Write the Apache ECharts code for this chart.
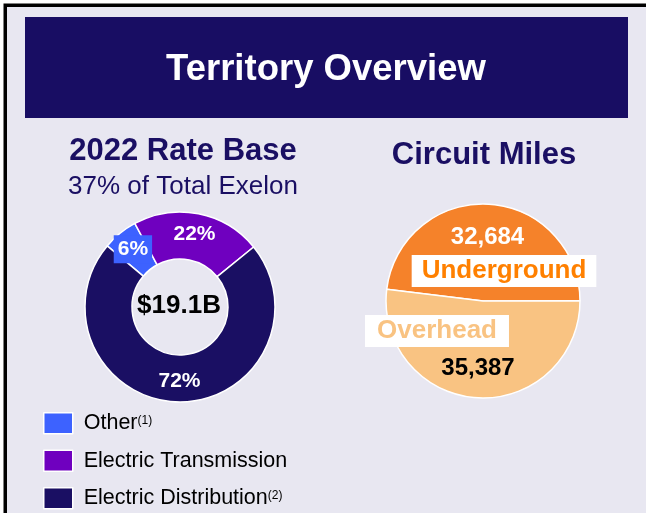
<!DOCTYPE html>
<html><head><meta charset="utf-8">
<script src="https://cdn.jsdelivr.net/npm/echarts@6/dist/echarts.min.js"></script>
<style>html,body{margin:0;padding:0;background:#fff}#c{width:646px;height:513px}</style>
</head><body><div id="c"></div>
<script>
// ---- data ----
const pageTitle = 'Territory Overview';
const rateBaseTitle = '2022 Rate Base';
const rateBaseSubtitle = '37% of Total Exelon';
const rateBaseTotal = '$19.1B';
const rateBaseCategories = ['Other', 'Electric Transmission', 'Electric Distribution'];
const rateBaseFootnotes = ['(1)', '', '(2)'];
const rateBaseValues = [6, 22, 72];
const circuitTitle = 'Circuit Miles';
const circuitCategories = ['Underground', 'Overhead'];
const circuitValues = [32684, 35387];

// ---- styles ----
const FONT = '"Liberation Sans", Arial, sans-serif';
const NAVY = '#1a0f63';
const rateBaseColors = ['#3d62ff', '#6f00bf', '#1a0f63'];
const circuitColors = ['#f5822a', '#f9c382'];
const BG = '#e8e7f1';

const chart = echarts.init(document.getElementById('c'), null, {renderer: 'canvas'});

const fmt = v => v.toLocaleString('en-US');

const option = {
  animation: false,
  textStyle: {fontFamily: FONT},
  graphic: [
    {type: 'rect', z: -10, shape: {x: 3.5, y: 3.5, width: 646, height: 513}, style: {fill: '#000'}},
    {type: 'rect', z: -9, shape: {x: 7, y: 7, width: 646, height: 513}, style: {fill: BG}},
    {type: 'rect', z: -8, shape: {x: 25, y: 17, width: 603, height: 101}, style: {fill: '#180d63'}},
    {type: 'text', x: 326, y: 70, style: {text: pageTitle, fill: '#fff', font: 'bold 36.5px ' + FONT, textAlign: 'center', textVerticalAlign: 'middle'}},
    {type: 'text', x: 183, y: 151, style: {text: rateBaseTitle, fill: NAVY, font: 'bold 31px ' + FONT, textAlign: 'center', textVerticalAlign: 'middle'}},
    {type: 'text', x: 183, y: 187, style: {text: rateBaseSubtitle, fill: NAVY, font: '26px ' + FONT, textAlign: 'center', textVerticalAlign: 'middle'}},
    {type: 'text', x: 484, y: 155, style: {text: circuitTitle, fill: NAVY, font: 'bold 31px ' + FONT, textAlign: 'center', textVerticalAlign: 'middle'}},
    {type: 'text', x: 179, y: 306, z: 10, style: {text: rateBaseTotal, fill: '#000', font: 'bold 26px ' + FONT, textAlign: 'center', textVerticalAlign: 'middle'}}
  ],
  legend: {
    orient: 'vertical',
    left: 43,
    top: 412,
    padding: 0,
    height: 100,
    itemWidth: 29,
    itemHeight: 21,
    itemGap: 15,
    icon: 'rect',
    data: rateBaseCategories,
    itemStyle: {borderColor: '#fff', borderWidth: 1.5},
    formatter: name => {
      const i = rateBaseCategories.indexOf(name);
      return '{t|' + name + '}' + (rateBaseFootnotes[i] ? '{s|' + rateBaseFootnotes[i] + '}' : '');
    },
    textStyle: {
      rich: {
        t: {fontSize: 21.5, color: '#000', fontFamily: FONT, lineHeight: 22, padding: [0, 0, 0, 6]},
        s: {fontSize: 12, color: '#000', fontFamily: FONT, lineHeight: 12, verticalAlign: 'top', padding: [2, 0, 0, 0]}
      }
    }
  },
  series: [
    {
      type: 'pie',
      name: 'Rate Base',
      center: [180, 307],
      radius: [48, 95],
      startAngle: 140,
      clockwise: true,
      itemStyle: {borderColor: '#fff', borderWidth: 1.5},
      label: {
        show: true, position: 'inside', formatter: '{c}%',
        color: '#fff', fontSize: 21, fontWeight: 'bold', fontFamily: FONT
      },
      labelLine: {show: false},
      emphasis: {disabled: true},
      data: rateBaseCategories.map((n, i) => ({
        name: n, value: rateBaseValues[i],
        itemStyle: {color: rateBaseColors[i]},
        label: i === 0 ? {backgroundColor: rateBaseColors[0], padding: [4, 4, 3, 4]} : {}
      }))
    },
    {
      type: 'pie',
      name: 'Circuit Miles',
      center: [483, 301],
      radius: [0, 97],
      startAngle: 173,
      clockwise: true,
      itemStyle: {borderColor: '#fff', borderWidth: 1.5},
      label: {
        show: true, position: 'center', fontFamily: FONT,
        formatter: p => p.dataIndex === 0
          ? '{uv|' + fmt(p.value) + '}\n{un|' + p.name + '}'
          : '{on|' + p.name + '}\n{ov|' + fmt(p.value) + '}',
        rich: {
          uv: {color: '#fff', fontSize: 24, fontWeight: 'bold', fontFamily: FONT, lineHeight: 40, padding: [0, 33, 0, 0]},
          un: {color: '#ff8000', fontSize: 26, fontWeight: 'bold', fontFamily: FONT, lineHeight: 27, backgroundColor: '#fff', padding: [3, 10, 3, 10]},
          on: {color: '#f9c382', fontSize: 26, fontWeight: 'bold', fontFamily: FONT, lineHeight: 27, backgroundColor: '#fff', padding: [3, 12, 3, 12]},
          ov: {color: '#000', fontSize: 24, fontWeight: 'bold', fontFamily: FONT, lineHeight: 48, padding: [0, 0, 0, 82]}
        }
      },
      labelLine: {show: false},
      emphasis: {disabled: true},
      data: circuitCategories.map((n, i) => ({
        name: n, value: circuitValues[i],
        itemStyle: {color: circuitColors[i]},
        label: {offset: i === 0 ? [21, -50] : [-46, 54]}
      }))
    }
  ]
};
chart.setOption(option);
</script>
</body></html>
